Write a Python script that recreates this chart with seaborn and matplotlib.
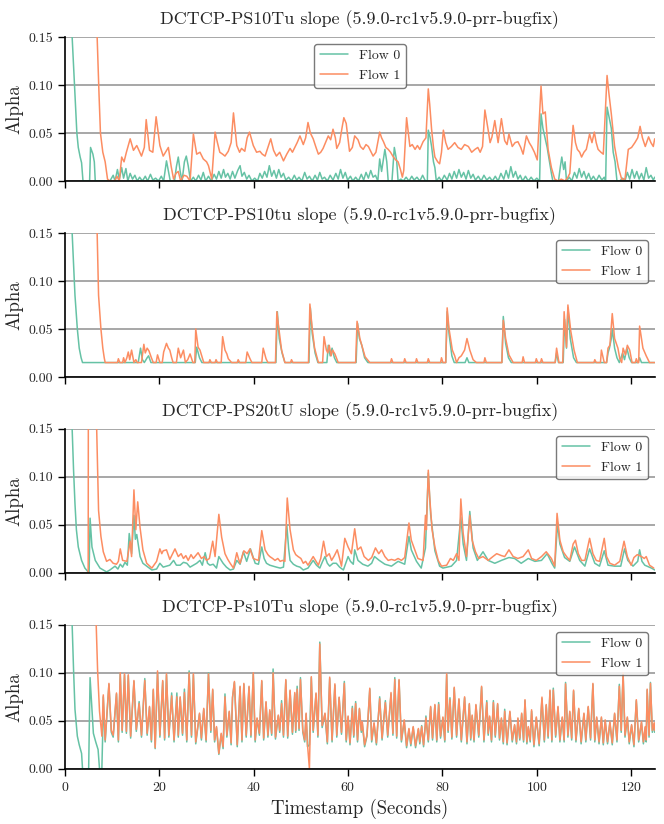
import pandas as pd
import matplotlib
matplotlib.use("Agg")
import matplotlib.pyplot as plt
from matplotlib.ticker import FormatStrFormatter
import seaborn as sns

# Alpha traces, (timestamp in s, alpha)
titles = [
    "DCTCP-PS10Tu slope (5.9.0-rc1v5.9.0-prr-bugfix)",
    "DCTCP-PS10tu slope (5.9.0-rc1v5.9.0-prr-bugfix)",
    "DCTCP-PS20tU slope (5.9.0-rc1v5.9.0-prr-bugfix)",
    "DCTCP-Ps10Tu slope (5.9.0-rc1v5.9.0-prr-bugfix)",
]
flows = ["Flow 0", "Flow 1"]
yticks = [0.0, 0.05, 0.10, 0.15]
xticks = [0, 20, 40, 60, 80, 100, 120]

# panel 1: DCTCP-PS10Tu
p1_flow0 = [
    (0, 1.0), (1.5, 0.15), (2.0, 0.10), (2.5, 0.05), (2.8, 0.035), (3.2, 0.025), (3.5, 0.019), (3.8, 0.0),
    (5.2, 0.0), (5.4, 0.035), (5.9, 0.028), (6.2, 0.02), (6.4, 0.0), (8.0, 0.0), (9.5, 0.0), (10.2, 0.006),
    (10.6, 0.0), (11.1, 0.012), (11.5, 0.002), (12.0, 0.014), (12.4, 0.003), (12.9, 0.013), (13.3, 0.0),
    (13.8, 0.008), (14.3, 0.002), (14.8, 0.006), (15.3, 0.0), (15.8, 0.004), (16.4, 0.0), (17.0, 0.005),
    (17.5, 0.0), (18.1, 0.007), (18.6, 0.001), (19.2, 0.003), (19.8, 0.0), (20.4, 0.005), (20.9, 0.0),
    (21.5, 0.021), (22.0, 0.008), (22.3, 0.0), (23.2, 0.0), (23.6, 0.015), (24.0, 0.025), (24.4, 0.01),
    (24.8, 0.0), (25.3, 0.02), (25.7, 0.026), (26.1, 0.016), (26.6, 0.0), (27.2, 0.004), (27.7, 0.0),
    (28.3, 0.006), (28.8, 0.001), (29.3, 0.009), (29.8, 0.0), (30.4, 0.005), (31.0, 0.0), (31.6, 0.007),
    (32.1, 0.002), (32.6, 0.01), (33.1, 0.003), (33.6, 0.012), (34.0, 0.004), (34.5, 0.008), (35.0, 0.002),
    (35.5, 0.01), (36.0, 0.003), (36.6, 0.011), (37.1, 0.016), (37.5, 0.005), (38.0, 0.009), (38.5, 0.002),
    (39.0, 0.006), (39.6, 0.0), (40.2, 0.003), (40.8, 0.0), (41.3, 0.008), (41.8, 0.003), (42.3, 0.01),
    (42.8, 0.004), (43.3, 0.016), (43.8, 0.005), (44.3, 0.011), (44.8, 0.003), (45.3, 0.012), (45.8, 0.004),
    (46.3, 0.008), (46.8, 0.001), (47.4, 0.004), (48.0, 0.0), (48.6, 0.006), (49.1, 0.001), (49.6, 0.004),
    (50.2, 0.0), (50.8, 0.009), (51.3, 0.002), (51.8, 0.005), (52.4, 0.0), (53.0, 0.006), (53.5, 0.001),
    (54.0, 0.009), (54.5, 0.002), (55.0, 0.004), (55.6, 0.0), (56.2, 0.006), (56.8, 0.001), (57.4, 0.008),
    (57.9, 0.002), (58.4, 0.012), (58.9, 0.003), (59.4, 0.009), (59.9, 0.001), (60.5, 0.005), (61.0, 0.0),
    (61.6, 0.004), (62.2, 0.0), (62.8, 0.007), (63.3, 0.001), (63.8, 0.009), (64.3, 0.003), (64.8, 0.011),
    (65.3, 0.004), (65.8, 0.006), (66.3, 0.0), (66.7, 0.023), (67.1, 0.01), (67.8, 0.033), (68.2, 0.02),
    (68.5, 0.0), (69.3, 0.0), (69.8, 0.035), (70.3, 0.021), (70.6, 0.0), (71.2, 0.002), (71.7, 0.0),
    (72.3, 0.004), (72.9, 0.0), (73.5, 0.005), (74.0, 0.001), (74.6, 0.004), (75.2, 0.0), (75.8, 0.006),
    (76.4, 0.0), (76.8, 0.0), (77.0, 0.053), (77.4, 0.045), (77.7, 0.036), (78.1, 0.02), (78.4, 0.014),
    (78.7, 0.0), (79.3, 0.004), (79.8, 0.0), (80.4, 0.006), (81.0, 0.001), (81.5, 0.008), (82.0, 0.002),
    (82.5, 0.01), (83.0, 0.003), (83.5, 0.012), (84.0, 0.004), (84.5, 0.009), (85.0, 0.002), (85.5, 0.011),
    (86.0, 0.003), (86.5, 0.007), (87.0, 0.001), (87.6, 0.005), (88.2, 0.0), (88.8, 0.006), (89.4, 0.001),
    (90.0, 0.004), (90.6, 0.0), (91.2, 0.005), (91.8, 0.0), (92.4, 0.008), (93.0, 0.002), (93.5, 0.011),
    (94.0, 0.003), (94.5, 0.015), (95.0, 0.004), (95.5, 0.01), (96.0, 0.002), (96.5, 0.006), (97.0, 0.0),
    (97.6, 0.005), (98.2, 0.0), (98.8, 0.004), (99.4, 0.0), (100.0, 0.003), (100.6, 0.0), (100.9, 0.07),
    (101.3, 0.055), (101.7, 0.046), (102.2, 0.035), (102.7, 0.02), (103.1, 0.008), (103.4, 0.0),
    (104.6, 0.0), (105.0, 0.015), (105.3, 0.025), (105.7, 0.012), (106.0, 0.02), (106.3, 0.0),
    (106.9, 0.004), (107.4, 0.0), (108.0, 0.009), (108.5, 0.003), (109.0, 0.013), (109.5, 0.004),
    (110.0, 0.01), (110.5, 0.002), (111.0, 0.008), (111.5, 0.001), (112.0, 0.005), (112.6, 0.0),
    (113.2, 0.006), (113.8, 0.001), (114.3, 0.004), (114.6, 0.0), (114.9, 0.077), (115.4, 0.065),
    (115.8, 0.055), (116.2, 0.03), (116.6, 0.02), (117.0, 0.0), (117.6, 0.0), (118.2, 0.003), (118.7, 0.0),
    (119.2, 0.009), (119.7, 0.002), (120.2, 0.012), (120.7, 0.003), (121.2, 0.01), (121.7, 0.002),
    (122.2, 0.008), (122.7, 0.001), (123.2, 0.014), (123.7, 0.003), (124.2, 0.006), (124.7, 0.001),
    (125.0, 0.004),
]
p1_flow1 = [
    (5.0, 1.0), (6.8, 0.15), (7.2, 0.09), (7.5, 0.05), (8.0, 0.03), (8.5, 0.02), (9.0, 0.002), (9.5, 0.0),
    (10.5, 0.0), (11.0, 0.005), (11.5, 0.0), (12.0, 0.025), (12.5, 0.02), (13.0, 0.03), (13.8, 0.044),
    (14.5, 0.032), (15.2, 0.037), (16.2, 0.026), (16.8, 0.035), (17.2, 0.064), (17.9, 0.032), (18.6, 0.03),
    (19.3, 0.067), (20.1, 0.037), (20.8, 0.026), (21.3, 0.03), (21.9, 0.035), (22.5, 0.015), (23.0, 0.002),
    (23.5, 0.008), (24.0, 0.01), (24.5, 0.0), (25.2, 0.006), (25.8, 0.005), (26.5, 0.0), (27.2, 0.049),
    (27.9, 0.028), (28.6, 0.03), (29.3, 0.023), (30.0, 0.02), (30.4, 0.016), (31.1, 0.002), (31.8, 0.051),
    (32.3, 0.04), (32.8, 0.03), (33.4, 0.028), (33.9, 0.026), (34.6, 0.031), (35.2, 0.04), (35.7, 0.071),
    (36.4, 0.037), (37.0, 0.03), (37.4, 0.034), (38.1, 0.031), (38.6, 0.045), (39.1, 0.051), (39.9, 0.037),
    (40.6, 0.03), (41.3, 0.031), (41.8, 0.028), (42.4, 0.026), (43.0, 0.035), (43.6, 0.044), (44.2, 0.032),
    (44.8, 0.026), (45.5, 0.03), (46.3, 0.021), (47.0, 0.028), (47.7, 0.034), (48.2, 0.03), (48.7, 0.035),
    (49.2, 0.04), (49.8, 0.047), (50.5, 0.038), (51.0, 0.045), (51.5, 0.061), (52.0, 0.05), (52.6, 0.044),
    (53.2, 0.035), (53.7, 0.028), (54.2, 0.03), (54.7, 0.034), (55.2, 0.04), (55.8, 0.047), (56.3, 0.043),
    (56.8, 0.054), (57.3, 0.045), (57.6, 0.034), (58.2, 0.04), (58.7, 0.055), (59.1, 0.066), (59.6, 0.06),
    (60.3, 0.031), (60.9, 0.035), (61.4, 0.047), (62.1, 0.043), (62.6, 0.036), (63.2, 0.033), (63.8, 0.038),
    (64.3, 0.036), (65.3, 0.026), (65.9, 0.03), (66.7, 0.051), (67.1, 0.045), (67.5, 0.041), (68.0, 0.035),
    (68.5, 0.033), (69.0, 0.03), (69.6, 0.025), (70.1, 0.022), (70.6, 0.02), (71.1, 0.012), (71.5, 0.004),
    (71.8, 0.011), (72.4, 0.066), (73.1, 0.036), (73.6, 0.038), (74.2, 0.033), (74.7, 0.037), (75.2, 0.033),
    (75.9, 0.041), (76.5, 0.045), (77.0, 0.096), (77.3, 0.08), (77.7, 0.054), (78.1, 0.035), (78.4, 0.025),
    (79.0, 0.02), (79.4, 0.018), (79.8, 0.03), (80.2, 0.053), (80.7, 0.04), (81.2, 0.033), (81.9, 0.036),
    (82.6, 0.04), (83.3, 0.035), (84.0, 0.033), (84.7, 0.038), (85.5, 0.036), (86.2, 0.03), (86.9, 0.033),
    (87.5, 0.035), (88.0, 0.03), (88.5, 0.036), (89.0, 0.074), (89.7, 0.053), (90.1, 0.04), (90.5, 0.046),
    (91.1, 0.063), (91.8, 0.04), (92.5, 0.065), (93.2, 0.042), (93.7, 0.038), (94.1, 0.049), (94.8, 0.036),
    (95.4, 0.04), (96.0, 0.041), (96.6, 0.035), (97.1, 0.028), (97.8, 0.047), (98.4, 0.04), (98.9, 0.036),
    (99.5, 0.03), (100.1, 0.022), (100.9, 0.099), (101.3, 0.07), (101.8, 0.072), (102.4, 0.033),
    (103.1, 0.014), (103.8, 0.002), (104.5, 0.0), (105.2, 0.002), (106.0, 0.0), (106.6, 0.004),
    (107.0, 0.008), (107.7, 0.058), (108.2, 0.04), (108.6, 0.033), (109.1, 0.03), (109.5, 0.025),
    (110.0, 0.03), (110.5, 0.033), (111.2, 0.049), (111.7, 0.04), (112.2, 0.051), (112.6, 0.04),
    (113.0, 0.033), (113.6, 0.03), (114.1, 0.028), (114.9, 0.11), (115.3, 0.091), (115.8, 0.07),
    (116.5, 0.036), (117.3, 0.014), (118.0, 0.002), (118.7, 0.002), (119.4, 0.033), (120.1, 0.035),
    (120.8, 0.04), (121.4, 0.045), (121.9, 0.057), (122.4, 0.045), (123.0, 0.036), (123.7, 0.046),
    (124.2, 0.04), (124.7, 0.036), (125.0, 0.044),
]

# panel 2: DCTCP-PS10tu
p2_flow0 = [
    (0, 1.0), (1.5, 0.15), (2.1, 0.085), (2.6, 0.05), (3.0, 0.03), (3.4, 0.02), (3.7, 0.015), (15.5, 0.015),
    (16.0, 0.03), (16.4, 0.018), (16.8, 0.015), (17.4, 0.02), (17.7, 0.022), (18.2, 0.015), (27.6, 0.015),
    (27.9, 0.031), (28.5, 0.02), (29.0, 0.015), (44.7, 0.015), (45.0, 0.068), (45.4, 0.04), (46.0, 0.025),
    (46.6, 0.015), (51.7, 0.015), (52.0, 0.072), (52.4, 0.045), (53.0, 0.025), (53.6, 0.015), (55.5, 0.015),
    (55.8, 0.033), (56.2, 0.022), (56.6, 0.03), (57.1, 0.02), (57.6, 0.015), (61.7, 0.015), (62.0, 0.056),
    (62.4, 0.04), (62.9, 0.033), (63.5, 0.02), (64.2, 0.015), (80.7, 0.015), (81.0, 0.068), (81.4, 0.045),
    (82.0, 0.022), (82.5, 0.015), (84.8, 0.015), (85.2, 0.02), (85.6, 0.015), (92.6, 0.015), (92.9, 0.063),
    (93.4, 0.035), (94.0, 0.02), (94.6, 0.015), (103.9, 0.015), (104.2, 0.025), (104.6, 0.015),
    (105.6, 0.015), (105.9, 0.06), (106.3, 0.03), (106.6, 0.072), (107.1, 0.04), (107.8, 0.02),
    (108.4, 0.015), (114.8, 0.015), (115.1, 0.025), (115.4, 0.03), (115.8, 0.04), (116.0, 0.05),
    (116.5, 0.03), (117.0, 0.02), (117.5, 0.015), (118.2, 0.025), (118.6, 0.018), (119.1, 0.03),
    (119.6, 0.02), (120.1, 0.015), (121.5, 0.015), (121.8, 0.02), (122.2, 0.015), (125.0, 0.015),
]
p2_flow1 = [
    (5.0, 1.0), (6.8, 0.15), (7.1, 0.085), (7.6, 0.05), (8.0, 0.03), (8.3, 0.02), (8.5, 0.015), (11.1, 0.015),
    (11.3, 0.019), (11.6, 0.015), (12.2, 0.015), (12.4, 0.02), (12.7, 0.015), (13.1, 0.02), (13.4, 0.026),
    (13.7, 0.018), (14.1, 0.028), (14.6, 0.015), (15.0, 0.018), (15.3, 0.015), (16.2, 0.015), (16.7, 0.034),
    (17.0, 0.025), (17.4, 0.03), (17.8, 0.027), (18.3, 0.02), (18.7, 0.015), (19.3, 0.015), (19.6, 0.023),
    (20.1, 0.015), (20.6, 0.015), (20.9, 0.026), (21.5, 0.035), (21.9, 0.03), (22.2, 0.028), (22.6, 0.02),
    (22.9, 0.015), (23.6, 0.015), (24.0, 0.03), (24.5, 0.02), (25.1, 0.028), (25.5, 0.015), (26.0, 0.018),
    (26.5, 0.024), (27.1, 0.015), (27.5, 0.015), (27.7, 0.05), (28.2, 0.031), (28.6, 0.028), (28.9, 0.023),
    (29.4, 0.015), (30.5, 0.015), (30.7, 0.018), (31.0, 0.015), (31.8, 0.015), (32.0, 0.018), (32.3, 0.015),
    (33.1, 0.015), (33.4, 0.042), (33.9, 0.028), (34.3, 0.024), (34.6, 0.019), (35.3, 0.015), (36.5, 0.015),
    (36.7, 0.018), (37.0, 0.015), (38.3, 0.015), (38.6, 0.026), (39.2, 0.019), (39.6, 0.015), (41.7, 0.015),
    (42.0, 0.03), (42.6, 0.019), (43.0, 0.015), (44.6, 0.015), (44.9, 0.068), (45.2, 0.055), (45.9, 0.028),
    (46.6, 0.015), (47.8, 0.015), (48.0, 0.018), (48.3, 0.015), (51.6, 0.015), (51.9, 0.076), (52.4, 0.05),
    (52.9, 0.03), (53.7, 0.015), (54.6, 0.015), (54.9, 0.042), (55.4, 0.028), (55.7, 0.025), (56.0, 0.033),
    (56.4, 0.022), (56.7, 0.028), (57.2, 0.024), (57.9, 0.015), (61.6, 0.015), (61.9, 0.058), (62.5, 0.04),
    (62.9, 0.033), (63.6, 0.021), (64.6, 0.015), (69.0, 0.015), (69.2, 0.019), (69.5, 0.015), (71.8, 0.015),
    (72.0, 0.019), (72.3, 0.015), (74.3, 0.015), (74.5, 0.019), (74.8, 0.015), (76.8, 0.015), (77.0, 0.019),
    (77.3, 0.015), (79.6, 0.015), (79.8, 0.02), (80.1, 0.015), (80.7, 0.015), (81.0, 0.072), (81.4, 0.05),
    (82.1, 0.028), (82.6, 0.022), (83.0, 0.015), (83.5, 0.02), (84.0, 0.022), (84.7, 0.028), (85.2, 0.04),
    (85.8, 0.028), (86.5, 0.018), (87.2, 0.015), (88.8, 0.015), (89.0, 0.02), (89.3, 0.015), (92.6, 0.015),
    (92.9, 0.059), (93.4, 0.04), (94.1, 0.023), (95.0, 0.015), (96.9, 0.015), (97.1, 0.021), (97.4, 0.015),
    (99.7, 0.015), (99.9, 0.019), (100.2, 0.015), (100.8, 0.015), (101.0, 0.019), (101.3, 0.015),
    (103.9, 0.015), (104.2, 0.03), (104.7, 0.015), (105.5, 0.015), (105.8, 0.068), (106.3, 0.031),
    (106.6, 0.075), (107.2, 0.048), (107.9, 0.028), (108.6, 0.015), (112.1, 0.015), (112.3, 0.018),
    (112.6, 0.015), (113.5, 0.015), (113.7, 0.028), (114.3, 0.015), (114.8, 0.015), (115.1, 0.03),
    (115.5, 0.033), (116.0, 0.066), (116.5, 0.04), (117.2, 0.03), (117.6, 0.019), (118.0, 0.015),
    (118.3, 0.03), (118.8, 0.023), (119.2, 0.033), (119.7, 0.028), (120.2, 0.015), (120.9, 0.015),
    (121.1, 0.019), (121.4, 0.015), (121.6, 0.015), (121.8, 0.053), (122.5, 0.03), (123.2, 0.022),
    (123.9, 0.015), (125.0, 0.015),
]

# panel 3: DCTCP-PS20tU
p3_flow0 = [
    (0, 1.0), (1.5, 0.15), (1.8, 0.107), (2.1, 0.072), (2.4, 0.045), (2.8, 0.027), (3.5, 0.013), (4.2, 0.005),
    (4.9, 0.001), (5.1, 0.001), (5.3, 0.057), (5.7, 0.027), (6.4, 0.013), (7.4, 0.005), (8.8, 0.001),
    (9.5, 0.003), (10.6, 0.007), (11.2, 0.004), (11.7, 0.009), (12.2, 0.006), (12.7, 0.011), (13.2, 0.008),
    (13.6, 0.041), (14.1, 0.02), (14.6, 0.06), (14.9, 0.035), (15.2, 0.04), (15.9, 0.017), (16.5, 0.01),
    (17.3, 0.007), (18.4, 0.003), (19.4, 0.004), (20.1, 0.01), (20.8, 0.006), (21.5, 0.007), (22.2, 0.008),
    (23.0, 0.013), (23.6, 0.008), (24.4, 0.008), (25.1, 0.011), (25.8, 0.01), (26.5, 0.006), (27.2, 0.008),
    (27.9, 0.01), (28.6, 0.013), (29.1, 0.008), (29.7, 0.021), (30.2, 0.01), (30.7, 0.008), (31.4, 0.009),
    (32.1, 0.005), (32.6, 0.017), (33.5, 0.01), (34.2, 0.006), (35.0, 0.003), (35.7, 0.004), (36.4, 0.013),
    (37.1, 0.009), (37.8, 0.022), (38.5, 0.012), (39.3, 0.025), (40.3, 0.01), (41.0, 0.009), (41.7, 0.027),
    (42.2, 0.015), (42.7, 0.01), (43.4, 0.008), (44.1, 0.007), (44.8, 0.006), (45.6, 0.005), (46.3, 0.006),
    (47.0, 0.05), (47.4, 0.025), (47.7, 0.013), (48.4, 0.009), (49.1, 0.007), (49.8, 0.006), (50.5, 0.003),
    (51.5, 0.005), (52.6, 0.013), (53.3, 0.008), (54.0, 0.005), (54.6, 0.012), (55.1, 0.017), (55.6, 0.01),
    (56.1, 0.007), (56.8, 0.01), (57.5, 0.01), (58.2, 0.006), (59.0, 0.003), (59.5, 0.01), (60.0, 0.017),
    (60.5, 0.012), (61.1, 0.009), (61.4, 0.024), (62.1, 0.013), (63.1, 0.009), (64.2, 0.007), (65.0, 0.01),
    (65.6, 0.017), (66.6, 0.013), (67.8, 0.009), (69.2, 0.007), (70.6, 0.012), (72.0, 0.009), (72.9, 0.038),
    (73.4, 0.024), (74.5, 0.012), (75.5, 0.005), (76.4, 0.026), (77.0, 0.104), (77.5, 0.061), (78.4, 0.023),
    (79.4, 0.007), (80.1, 0.005), (81.9, 0.007), (83.0, 0.013), (83.9, 0.058), (84.4, 0.03), (85.1, 0.013),
    (85.8, 0.064), (86.5, 0.026), (87.4, 0.013), (88.6, 0.022), (89.7, 0.013), (91.1, 0.01), (92.5, 0.013),
    (94.1, 0.016), (95.3, 0.015), (96.7, 0.01), (98.2, 0.015), (99.6, 0.012), (101.0, 0.013), (102.2, 0.02),
    (103.2, 0.01), (103.8, 0.005), (104.4, 0.052), (104.9, 0.03), (105.9, 0.016), (107.0, 0.012),
    (108.0, 0.027), (109.1, 0.013), (110.2, 0.007), (111.2, 0.025), (112.3, 0.01), (113.3, 0.007),
    (114.3, 0.023), (115.1, 0.008), (116.5, 0.007), (117.8, 0.007), (118.6, 0.025), (119.3, 0.013),
    (120.4, 0.007), (121.4, 0.012), (121.8, 0.024), (122.3, 0.012), (122.9, 0.008), (124.3, 0.005),
    (125.0, 0.003),
]
p3_flow1 = [
    (4.9, 0.0), (5.1, 1.0), (6.7, 0.15), (6.9, 0.107), (7.1, 0.065), (7.6, 0.038), (8.1, 0.022), (8.8, 0.012),
    (9.5, 0.014), (10.2, 0.01), (10.9, 0.009), (11.3, 0.012), (11.7, 0.025), (12.2, 0.013), (13.1, 0.012),
    (13.8, 0.033), (14.1, 0.017), (14.6, 0.0865), (15.0, 0.045), (15.4, 0.074), (15.9, 0.047), (16.5, 0.024),
    (17.3, 0.01), (18.4, 0.005), (19.4, 0.012), (20.1, 0.025), (20.5, 0.02), (20.8, 0.023), (21.5, 0.024),
    (22.2, 0.014), (22.8, 0.02), (23.3, 0.025), (24.0, 0.017), (24.6, 0.02), (25.1, 0.015), (25.6, 0.018),
    (26.1, 0.013), (26.7, 0.019), (27.2, 0.015), (27.7, 0.018), (28.2, 0.021), (28.9, 0.015), (29.5, 0.017),
    (30.0, 0.013), (30.6, 0.015), (31.3, 0.033), (31.8, 0.017), (32.6, 0.061), (33.2, 0.037), (33.9, 0.02),
    (34.5, 0.014), (35.0, 0.01), (35.7, 0.005), (36.4, 0.021), (36.8, 0.014), (37.1, 0.01), (37.9, 0.023),
    (38.6, 0.02), (39.2, 0.025), (39.9, 0.015), (40.4, 0.014), (41.0, 0.013), (41.7, 0.044), (42.4, 0.024),
    (43.0, 0.019), (43.4, 0.017), (44.0, 0.015), (44.5, 0.013), (45.1, 0.015), (45.6, 0.012), (46.1, 0.013),
    (46.6, 0.012), (47.1, 0.078), (47.7, 0.045), (48.4, 0.024), (48.9, 0.019), (49.4, 0.017), (50.0, 0.015),
    (50.5, 0.01), (51.0, 0.012), (51.5, 0.008), (52.0, 0.012), (52.6, 0.017), (53.1, 0.013), (53.7, 0.008),
    (54.2, 0.015), (54.8, 0.033), (55.4, 0.017), (56.0, 0.02), (56.5, 0.013), (57.1, 0.018), (57.7, 0.024),
    (58.2, 0.015), (58.6, 0.007), (59.3, 0.036), (60.0, 0.027), (60.7, 0.02), (61.4, 0.046), (62.0, 0.024),
    (62.7, 0.027), (63.4, 0.017), (64.3, 0.013), (65.0, 0.016), (65.8, 0.026), (66.5, 0.02), (67.1, 0.024),
    (67.8, 0.017), (68.5, 0.013), (69.2, 0.014), (69.9, 0.013), (70.6, 0.015), (71.3, 0.013), (72.0, 0.016),
    (72.9, 0.052), (73.4, 0.034), (74.0, 0.026), (74.8, 0.015), (75.9, 0.013), (76.4, 0.06), (76.6, 0.045),
    (77.0, 0.107), (77.3, 0.079), (77.8, 0.045), (78.4, 0.027), (79.1, 0.013), (79.8, 0.007), (80.9, 0.008),
    (81.7, 0.015), (82.3, 0.013), (83.0, 0.02), (83.5, 0.013), (83.9, 0.077), (84.4, 0.041), (85.1, 0.017),
    (85.8, 0.06), (86.3, 0.034), (87.0, 0.022), (87.7, 0.015), (88.6, 0.017), (89.7, 0.013), (90.7, 0.017),
    (91.5, 0.02), (92.5, 0.018), (93.2, 0.017), (94.1, 0.024), (95.0, 0.017), (96.0, 0.015), (97.1, 0.017),
    (98.2, 0.024), (98.9, 0.015), (99.9, 0.013), (101.0, 0.017), (102.0, 0.022), (103.1, 0.015),
    (103.8, 0.007), (104.3, 0.062), (104.9, 0.034), (105.6, 0.022), (106.3, 0.017), (107.0, 0.013),
    (107.7, 0.03), (108.2, 0.034), (108.8, 0.02), (109.5, 0.013), (110.2, 0.013), (111.2, 0.036),
    (111.9, 0.02), (112.6, 0.013), (113.3, 0.012), (114.3, 0.036), (114.8, 0.017), (115.5, 0.01),
    (116.5, 0.008), (117.6, 0.012), (118.5, 0.033), (119.2, 0.017), (120.0, 0.008), (120.6, 0.016),
    (121.3, 0.019), (122.2, 0.017), (122.8, 0.015), (123.2, 0.017), (123.9, 0.008), (124.8, 0.005),
]

# panel 4: DCTCP-Ps10Tu
p4_flow0 = [
    (0, 1.0), (1.5, 0.15), (1.8, 0.103), (2.1, 0.062), (2.6, 0.034), (3.0, 0.025), (3.5, 0.016), (3.7, 0.0),
    (5.0, 0.0), (5.3, 0.095), (6.0, 0.037), (6.5, 0.028), (7.0, 0.02), (7.3, 0.0), (7.8, 0.0), (8.0, 0.041),
    (8.1, 0.075), (8.5, 0.028), (9.3, 0.088), (9.8, 0.038), (10.2, 0.033), (10.9, 0.078), (11.3, 0.028),
    (11.7, 0.099), (12.1, 0.038), (12.6, 0.098), (13.0, 0.037), (13.4, 0.097), (13.9, 0.032), (14.6, 0.091),
    (15.1, 0.039), (15.7, 0.07), (16.2, 0.033), (16.9, 0.094), (17.4, 0.035), (17.9, 0.064), (18.3, 0.028),
    (18.7, 0.082), (19.1, 0.021), (19.6, 0.1), (20.1, 0.033), (20.7, 0.091), (21.1, 0.03), (21.5, 0.098),
    (22.0, 0.033), (22.6, 0.079), (23.1, 0.028), (23.7, 0.079), (24.0, 0.033), (24.4, 0.074), (24.9, 0.035),
    (25.3, 0.083), (25.8, 0.028), (26.3, 0.102), (26.8, 0.033), (27.2, 0.098), (27.7, 0.026), (28.5, 0.057),
    (28.9, 0.03), (29.4, 0.062), (29.9, 0.028), (30.4, 0.1), (30.9, 0.038), (31.3, 0.082), (31.7, 0.028),
    (32.1, 0.043), (32.6, 0.015), (33.1, 0.036), (33.5, 0.021), (33.9, 0.078), (34.3, 0.033), (34.8, 0.059),
    (35.2, 0.025), (35.5, 0.074), (35.9, 0.09), (36.5, 0.023), (37.1, 0.085), (37.5, 0.028), (37.9, 0.088),
    (38.4, 0.033), (39.0, 0.085), (39.4, 0.033), (39.9, 0.099), (40.3, 0.028), (40.7, 0.052), (41.2, 0.035),
    (41.7, 0.091), (42.1, 0.03), (42.6, 0.069), (43.0, 0.033), (43.4, 0.06), (43.8, 0.035), (44.1, 0.104),
    (44.6, 0.031), (45.2, 0.055), (45.5, 0.038), (45.9, 0.071), (46.3, 0.033), (46.8, 0.092), (47.2, 0.032),
    (47.7, 0.081), (48.2, 0.036), (48.7, 0.078), (48.9, 0.038), (49.2, 0.086), (49.6, 0.04), (49.9, 0.095),
    (50.4, 0.038), (50.8, 0.028), (51.1, 0.057), (51.4, 0.023), (51.8, 0.025), (52.2, 0.095), (52.6, 0.038),
    (53.2, 0.078), (53.6, 0.033), (54.0, 0.132), (54.5, 0.043), (55.1, 0.057), (55.6, 0.026), (56.1, 0.094),
    (56.6, 0.028), (57.2, 0.087), (57.6, 0.033), (58.1, 0.074), (58.6, 0.036), (59.2, 0.091), (59.6, 0.028),
    (60.0, 0.054), (60.4, 0.025), (60.9, 0.065), (61.2, 0.033), (61.6, 0.07), (62.0, 0.028), (62.4, 0.062),
    (62.8, 0.038), (63.0, 0.048), (63.5, 0.023), (64.0, 0.034), (64.6, 0.083), (65.0, 0.028), (65.5, 0.047),
    (66.0, 0.025), (66.7, 0.075), (67.2, 0.03), (67.9, 0.071), (68.4, 0.033), (69.1, 0.078), (69.5, 0.035),
    (69.9, 0.095), (70.3, 0.032), (70.8, 0.092), (71.3, 0.028), (71.9, 0.05), (72.4, 0.022), (72.9, 0.041),
    (73.3, 0.024), (73.8, 0.043), (74.3, 0.022), (74.9, 0.041), (75.2, 0.026), (75.6, 0.045), (76.0, 0.023),
    (76.5, 0.055), (77.0, 0.028), (77.5, 0.064), (77.9, 0.03), (78.4, 0.066), (78.8, 0.028), (79.2, 0.069),
    (79.6, 0.032), (80.1, 0.053), (80.5, 0.028), (80.9, 0.098), (81.2, 0.038), (81.6, 0.074), (82.0, 0.031),
    (82.5, 0.084), (83.0, 0.033), (83.5, 0.072), (84.0, 0.028), (84.7, 0.074), (85.2, 0.026), (85.7, 0.067),
    (86.0, 0.03), (86.3, 0.055), (86.7, 0.028), (87.1, 0.066), (87.7, 0.033), (88.3, 0.085), (88.8, 0.028),
    (89.4, 0.071), (89.7, 0.035), (90.0, 0.054), (90.4, 0.028), (90.8, 0.071), (91.2, 0.033), (91.7, 0.067),
    (92.1, 0.03), (92.5, 0.052), (92.9, 0.026), (93.2, 0.062), (93.7, 0.025), (94.3, 0.059), (94.8, 0.028),
    (95.3, 0.045), (95.7, 0.026), (96.0, 0.052), (96.4, 0.03), (96.8, 0.057), (97.2, 0.028), (97.5, 0.071),
    (97.9, 0.026), (98.2, 0.043), (98.6, 0.028), (98.9, 0.06), (99.4, 0.023), (99.9, 0.053), (100.5, 0.024),
    (101.1, 0.073), (101.6, 0.028), (102.0, 0.066), (102.4, 0.032), (102.8, 0.081), (103.2, 0.028),
    (103.5, 0.084), (104.0, 0.033), (104.5, 0.064), (104.9, 0.028), (105.4, 0.053), (105.8, 0.028),
    (106.1, 0.09), (106.6, 0.033), (107.0, 0.059), (107.4, 0.03), (107.8, 0.081), (108.3, 0.028),
    (108.9, 0.062), (109.4, 0.026), (110.0, 0.057), (110.4, 0.028), (110.9, 0.064), (111.4, 0.03),
    (111.9, 0.088), (112.3, 0.028), (112.7, 0.053), (113.2, 0.026), (113.7, 0.053), (114.1, 0.025),
    (114.5, 0.05), (115.0, 0.026), (115.5, 0.048), (116.0, 0.025), (116.5, 0.057), (117.0, 0.028),
    (117.5, 0.088), (117.9, 0.038), (118.3, 0.099), (118.7, 0.033), (119.2, 0.053), (119.6, 0.026),
    (120.1, 0.045), (120.6, 0.023), (121.1, 0.071), (121.6, 0.028), (122.2, 0.048), (122.6, 0.026),
    (123.0, 0.043), (123.2, 0.028), (123.4, 0.082), (123.8, 0.033), (124.1, 0.09), (124.5, 0.038),
    (124.9, 0.047), (125.0, 0.038),
]
p4_flow1 = [
    (5.0, 1.0), (6.6, 0.15), (6.9, 0.102), (7.3, 0.06), (7.8, 0.034), (8.1, 0.077), (8.5, 0.03), (9.3, 0.089),
    (9.8, 0.04), (10.2, 0.035), (10.9, 0.079), (11.3, 0.03), (11.7, 0.1), (12.1, 0.04), (12.6, 0.099),
    (13.0, 0.039), (13.4, 0.098), (13.9, 0.034), (14.6, 0.092), (15.1, 0.041), (15.7, 0.068), (16.2, 0.035),
    (16.9, 0.092), (17.4, 0.037), (17.9, 0.065), (18.3, 0.03), (18.7, 0.083), (19.1, 0.022), (19.6, 0.102),
    (20.1, 0.035), (20.7, 0.092), (21.1, 0.032), (21.5, 0.099), (22.0, 0.035), (22.6, 0.076), (23.1, 0.03),
    (23.7, 0.075), (24.0, 0.035), (24.4, 0.075), (24.9, 0.037), (25.3, 0.0795), (25.8, 0.03), (26.3, 0.1),
    (26.8, 0.035), (27.2, 0.099), (27.7, 0.028), (28.5, 0.058), (28.9, 0.032), (29.4, 0.063), (29.9, 0.03),
    (30.4, 0.099), (30.9, 0.04), (31.3, 0.083), (31.7, 0.03), (32.1, 0.044), (32.6, 0.016), (33.1, 0.037),
    (33.5, 0.023), (33.9, 0.075), (34.3, 0.035), (34.8, 0.06), (35.2, 0.027), (35.5, 0.0747), (35.9, 0.091),
    (36.5, 0.025), (37.1, 0.086), (37.5, 0.03), (37.9, 0.089), (38.4, 0.035), (39.0, 0.086), (39.4, 0.035),
    (39.9, 0.1), (40.3, 0.03), (40.7, 0.053), (41.2, 0.037), (41.7, 0.092), (42.1, 0.032), (42.6, 0.07),
    (43.0, 0.035), (43.4, 0.0615), (43.8, 0.037), (44.1, 0.1), (44.6, 0.033), (45.2, 0.056), (45.5, 0.04),
    (45.9, 0.068), (46.3, 0.035), (46.8, 0.093), (47.2, 0.034), (47.7, 0.082), (48.2, 0.038), (48.7, 0.0795),
    (48.9, 0.04), (49.2, 0.083), (49.6, 0.042), (49.9, 0.093), (50.4, 0.04), (50.8, 0.03), (51.1, 0.058),
    (51.4, 0.025), (51.8, 0.0), (52.2, 0.096), (52.6, 0.04), (53.2, 0.079), (53.6, 0.035), (54.0, 0.13),
    (54.5, 0.045), (55.1, 0.058), (55.6, 0.028), (56.1, 0.0955), (56.6, 0.03), (57.2, 0.0885), (57.6, 0.035),
    (58.1, 0.0747), (58.6, 0.038), (59.2, 0.089), (59.6, 0.03), (60.0, 0.055), (60.4, 0.027), (60.9, 0.063),
    (61.2, 0.035), (61.6, 0.068), (62.0, 0.03), (62.4, 0.063), (62.8, 0.04), (63.0, 0.049), (63.5, 0.025),
    (64.0, 0.035), (64.6, 0.084), (65.0, 0.03), (65.5, 0.048), (66.0, 0.027), (66.7, 0.073), (67.2, 0.032),
    (67.9, 0.069), (68.4, 0.035), (69.1, 0.0795), (69.5, 0.037), (69.9, 0.093), (70.3, 0.034), (70.8, 0.093),
    (71.3, 0.03), (71.9, 0.051), (72.4, 0.024), (72.9, 0.042), (73.3, 0.026), (73.8, 0.044), (74.3, 0.024),
    (74.9, 0.042), (75.2, 0.028), (75.6, 0.044), (76.0, 0.025), (76.5, 0.053), (77.0, 0.03), (77.5, 0.065),
    (77.9, 0.032), (78.4, 0.067), (78.8, 0.03), (79.2, 0.067), (79.6, 0.034), (80.1, 0.054), (80.5, 0.03),
    (80.9, 0.099), (81.2, 0.04), (81.6, 0.072), (82.0, 0.033), (82.5, 0.085), (83.0, 0.035), (83.5, 0.073),
    (84.0, 0.03), (84.7, 0.075), (85.2, 0.028), (85.7, 0.068), (86.0, 0.032), (86.3, 0.056), (86.7, 0.03),
    (87.1, 0.067), (87.7, 0.035), (88.3, 0.086), (88.8, 0.03), (89.4, 0.069), (89.7, 0.037), (90.0, 0.055),
    (90.4, 0.03), (90.8, 0.069), (91.2, 0.035), (91.7, 0.068), (92.1, 0.032), (92.5, 0.053), (92.9, 0.028),
    (93.2, 0.06), (93.7, 0.027), (94.3, 0.06), (94.8, 0.03), (95.3, 0.046), (95.7, 0.028), (96.0, 0.053),
    (96.4, 0.032), (96.8, 0.058), (97.2, 0.03), (97.5, 0.072), (97.9, 0.028), (98.2, 0.044), (98.6, 0.03),
    (98.9, 0.0615), (99.4, 0.025), (99.9, 0.054), (100.5, 0.026), (101.1, 0.0747), (101.6, 0.03),
    (102.0, 0.067), (102.4, 0.034), (102.8, 0.082), (103.2, 0.03), (103.5, 0.082), (104.0, 0.035),
    (104.5, 0.065), (104.9, 0.03), (105.4, 0.054), (105.8, 0.03), (106.1, 0.0885), (106.6, 0.035),
    (107.0, 0.06), (107.4, 0.032), (107.8, 0.082), (108.3, 0.03), (108.9, 0.063), (109.4, 0.028),
    (110.0, 0.058), (110.4, 0.03), (110.9, 0.065), (111.4, 0.032), (111.9, 0.089), (112.3, 0.03),
    (112.7, 0.054), (113.2, 0.028), (113.7, 0.054), (114.1, 0.027), (114.5, 0.051), (115.0, 0.028),
    (115.5, 0.049), (116.0, 0.027), (116.5, 0.058), (117.0, 0.03), (117.5, 0.086), (117.9, 0.04),
    (118.3, 0.1), (118.7, 0.035), (119.2, 0.054), (119.6, 0.028), (120.1, 0.046), (120.6, 0.025),
    (121.1, 0.072), (121.6, 0.03), (122.2, 0.049), (122.6, 0.028), (123.0, 0.044), (123.2, 0.03),
    (123.4, 0.083), (123.8, 0.035), (124.1, 0.089), (124.5, 0.04), (124.9, 0.048), (125.0, 0.04),
]

panels = [(p1_flow0, p1_flow1), (p2_flow0, p2_flow1), (p3_flow0, p3_flow1), (p4_flow0, p4_flow1)]
legend_locs = ["upper center", "upper right", "upper right", "upper right"]


def make_frame(flow0, flow1):
    rows = [(t, a, flows[0]) for t, a in flow0] + [(t, a, flows[1]) for t, a in flow1]
    return pd.DataFrame(rows, columns=["Timestamp", "Alpha", "Flow"])


sns.set_style("ticks")
plt.rcParams["font.family"] = ["cmr10", "DejaVu Serif"]
plt.rcParams["mathtext.fontset"] = "cm"
plt.rcParams["axes.formatter.use_mathtext"] = True
plt.rcParams["axes.unicode_minus"] = False

colors = sns.color_palette("Set2", 2)

fig, axes = plt.subplots(4, 1, figsize=(6.64, 8.24), dpi=100, sharex=True)
fig.subplots_adjust(left=0.098, right=0.986, top=0.955, bottom=0.067, hspace=0.361)

for ax, (f0, f1), title, loc in zip(axes, panels, titles, legend_locs):
    df = make_frame(f0, f1)
    sns.lineplot(data=df, x="Timestamp", y="Alpha", hue="Flow", palette=colors,
                 estimator=None, linewidth=1.1, ax=ax)
    ax.set_xlim(0, 125)
    ax.set_ylim(0, 0.15)
    ax.set_yticks(yticks)
    ax.set_xticks(xticks)
    ax.yaxis.set_major_formatter(FormatStrFormatter("%.2f"))
    ax.yaxis.grid(True, color="#a0a0a0", linewidth=1.3)
    ax.xaxis.grid(False)
    ax.set_axisbelow(True)
    ax.set_title(title, fontsize=13, pad=9)
    ax.set_ylabel("Alpha", fontsize=13.5)
    ax.set_xlabel("")
    ax.tick_params(axis="both", labelsize=10, direction="out", length=5, width=1, color="black")
    for side in ["left", "bottom"]:
        ax.spines[side].set_color("black")
        ax.spines[side].set_linewidth(1.2)
    sns.despine(ax=ax)
    sns.move_legend(ax, loc, title=None, frameon=True, fontsize=10,
                    edgecolor="0.35", fancybox=True)

axes[-1].set_xlabel("Timestamp (Seconds)", fontsize=13.5)

fig.savefig("out.png", dpi=100)
